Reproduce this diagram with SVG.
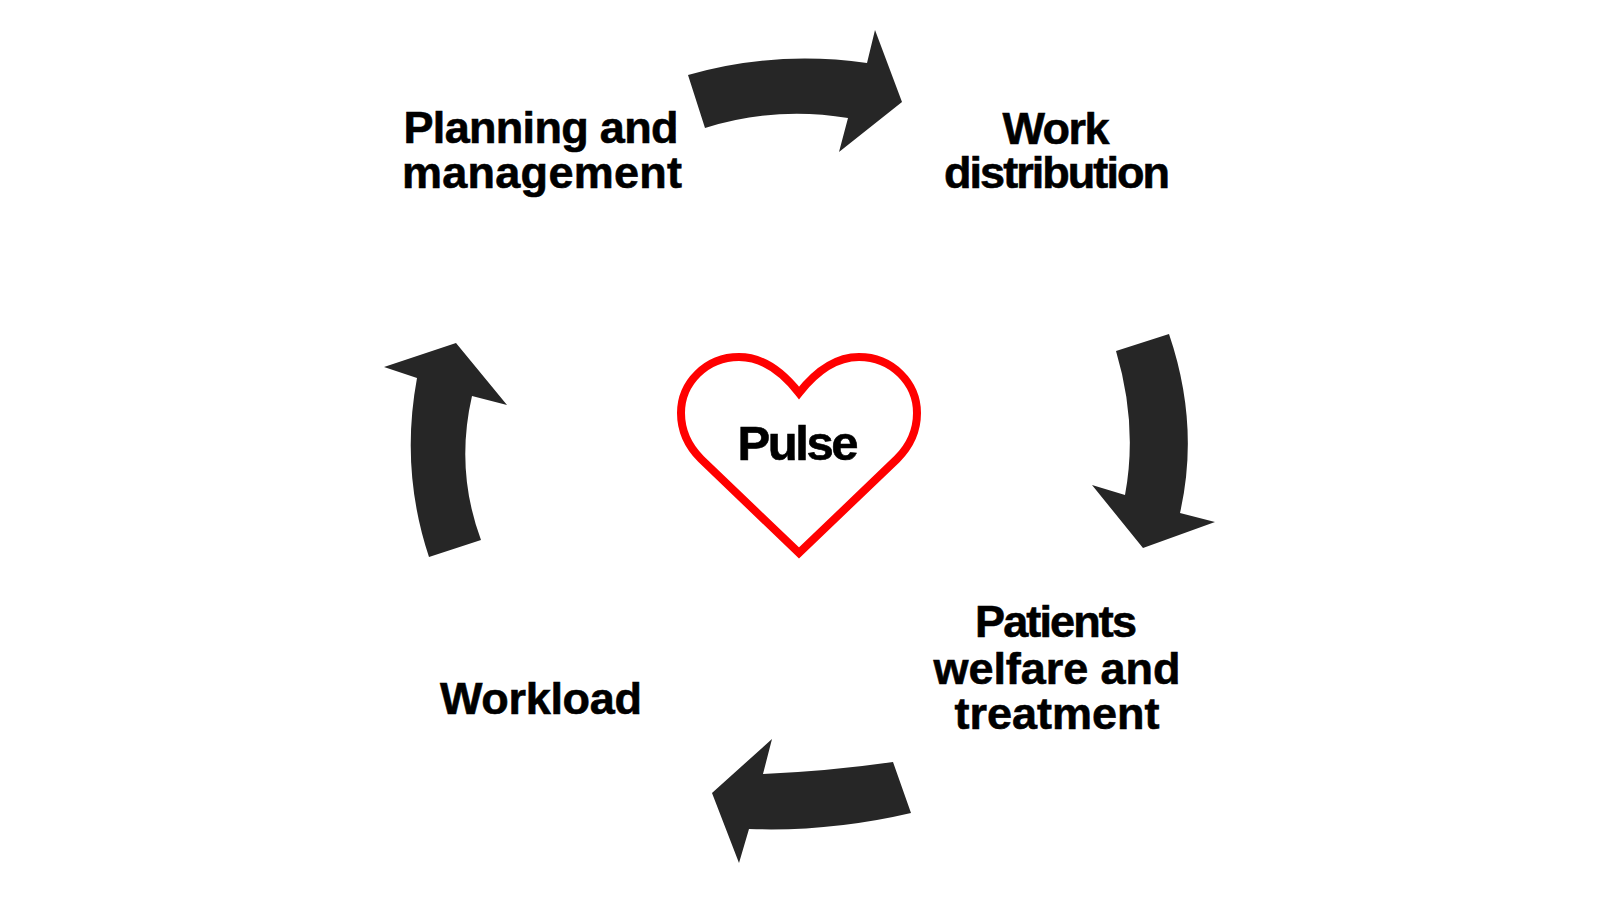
<svg xmlns="http://www.w3.org/2000/svg" width="1600" height="900" viewBox="0 0 1600 900">
<style>
.lbl{font-family:"Liberation Sans",Arial,sans-serif;font-weight:bold;font-size:45px;fill:#000;stroke:#000;stroke-width:0.6;text-anchor:middle}
.arr{fill:#262626}
</style>
<rect width="1600" height="900" fill="#fff"/>
<g id="connectors">
<path class="arr" d="M 688 75 Q 775 50 867 63 L 875 30 L 902 102 L 839 152 L 848 118 Q 775 106 705 128 Z"/>
<path class="arr" d="M 1116 351 L 1169 334 Q 1200 425 1180 513 L 1215 522 L 1143 548 L 1092 485 L 1125 495 Q 1138 425 1116 351 Z"/>
<path class="arr" d="M 893 762 L 911 813 Q 830 832 749 829 L 739 863 L 712 793 L 772 739 L 763 774 Q 830 771 893 762 Z"/>
<path class="arr" d="M 429 557 L 481 540 Q 455 470 472 396 L 507 405 L 456 343 L 384 367 L 417 378 Q 400 470 429 557 Z"/>
</g>
<g id="node-pulse">
<path d="M 799 393 C 781 370 762 357 739 357 C 706 357 681 383 681 413 C 681 432 689 447 701 459 L 799 553 L 897 459 C 909 447 917 432 917 413 C 917 383 892 357 859 357 C 836 357 817 370 799 393 Z" fill="#fff" stroke="#ff0000" stroke-width="8" stroke-linejoin="miter"/>
<text class="lbl" x="798" y="460" style="font-size:49px" textLength="121">Pulse</text>
</g>
<g id="node-planning">
<text class="lbl" x="541" y="143" textLength="275">Planning and</text>
<text class="lbl" x="542" y="188" textLength="280">management</text>
</g>
<g id="node-work">
<text class="lbl" x="1056" y="144" textLength="107">Work</text>
<text class="lbl" x="1057" y="188" textLength="226">distribution</text>
</g>
<g id="node-patients">
<text class="lbl" x="1056" y="637" textLength="162">Patients</text>
<text class="lbl" x="1057" y="684" textLength="247">welfare and</text>
<text class="lbl" x="1057" y="729" textLength="205">treatment</text>
</g>
<g id="node-workload">
<text class="lbl" x="541" y="714" textLength="202">Workload</text>
</g>
</svg>
